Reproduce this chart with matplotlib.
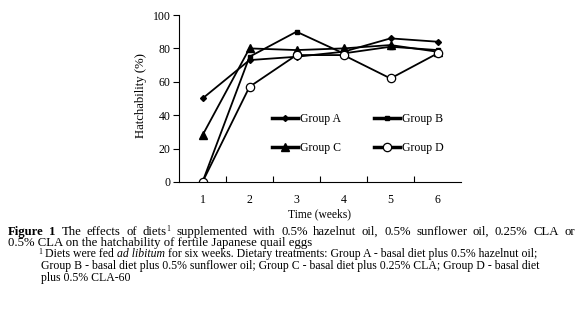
import numpy as np
import matplotlib
matplotlib.use('Agg')
import matplotlib.pyplot as plt

# data
weeks = [1, 2, 3, 4, 5, 6]
group_a = [50, 73, 75, 78, 86, 84]
group_b = [0, 75, 90, 77, 81, 79]
group_c = [28, 80, 79, 80, 82, 78]
group_d = [0, 57, 76, 76, 62, 77]
y_ticks = [0, 20, 40, 60, 80, 100]

plt.rcParams['font.family'] = ['Liberation Serif', 'DejaVu Serif']

fig = plt.figure(figsize=(5.8, 3.15), dpi=100)
ax = fig.add_axes([179/580, 1 - 182/315, (461 - 179)/580, (182 - 15)/315])

la, = ax.plot(weeks, group_a, '-', color='black', lw=1.3, marker='D', ms=3, label='Group A')
lb, = ax.plot(weeks, group_b, '-', color='black', lw=1.3, marker='s', ms=3.5, label='Group B')
lc, = ax.plot(weeks, group_c, '-', color='black', lw=1.3, marker='^', ms=6, label='Group C')
ld, = ax.plot(weeks, group_d, '-', color='black', lw=1.3, marker='o', ms=6,
              mfc='white', mec='black', mew=0.9, label='Group D')

ax.set_xlim(0.5, 6.5)
ax.set_ylim(0, 100)
ax.set_yticks(y_ticks)
ax.set_xticks(weeks)
ax.set_xticks(np.arange(1.5, 6.5, 1), minor=True)
ax.tick_params(axis='x', which='major', length=0, pad=9, labelsize=8.5)
ax.tick_params(axis='x', which='minor', length=4, direction='in', width=0.8)
ax.tick_params(axis='y', length=4, direction='out', width=0.8, labelsize=8.5, pad=2)
for s in ['top', 'right']:
    ax.spines[s].set_visible(False)
for s in ['left', 'bottom']:
    ax.spines[s].set_linewidth(0.8)

ax.set_ylabel('Hatchability (%)', fontsize=9.2)
ax.yaxis.set_label_coords(-0.113, 0.52)
ax.set_xlabel('Time (weeks)', fontsize=8.3, labelpad=1)

# row order A B / C D
leg = ax.legend([la, lc, lb, ld], ['Group A', 'Group C', 'Group B', 'Group D'],
                ncol=2, loc='center', bbox_to_anchor=(0.635, 0.29), frameon=False,
                fontsize=8.5, handlelength=2.2, handletextpad=0.15, columnspacing=2.8,
                labelspacing=1.5, borderaxespad=0)
for h in leg.get_lines():
    h.set_linewidth(2.5)

# caption, drawn as runs of differently styled text
renderer = fig.canvas.get_renderer()


def draw_runs(x, y, runs, size, right=None):
    # measure first, then spread spaces if the line is justified
    texts = []
    total = 0
    for txt, kw in runs:
        kw = dict(kw)
        dy = kw.pop('dy', 0)
        fs = kw.pop('fontsize', size)
        t = fig.text(0, 0, txt, fontsize=fs, va='baseline', **kw)
        w = t.get_window_extent(renderer=renderer).width
        texts.append((t, dy, w))
        total += w
    extra = 0
    if right is not None:
        nsp = sum(t.get_text().count(' ') for t, _, _ in texts)
        extra = (right - x - total) / nsp
    for t, dy, w in texts:
        words = t.get_text()
        if extra and ' ' in words:
            # split on spaces, place each piece
            fs = t.get_fontsize()
            props = dict(fontsize=fs, style=t.get_style(), weight=t.get_weight())
            t.remove()
            pieces = words.split(' ')
            for i, p in enumerate(pieces):
                if p:
                    tt = fig.text(x / 580, 1 - (y - dy) / 315, p, va='baseline', **props)
                    x += tt.get_window_extent(renderer=renderer).width
                if i < len(pieces) - 1:
                    sp = fig.text(0, 0, ' ', va='baseline', **props)
                    x += sp.get_window_extent(renderer=renderer).width + extra
                    sp.remove()
        else:
            t.set_position((x / 580, 1 - (y - dy) / 315))
            x += w


sup = {'fontsize': 5.5, 'dy': 4}
draw_runs(8, 235, [('Figure 1', {'weight': 'bold'}),
                   (' The effects of diets', {}),
                   ('1', sup),
                   (' supplemented with 0.5% hazelnut oil, 0.5% sunflower oil, 0.25% CLA or', {})],
          9.2, right=574)
draw_runs(8, 246, [('0.5% CLA on the hatchability of fertile Japanese quail eggs', {})], 9.2)
draw_runs(38, 257, [('1', {'fontsize': 5.5, 'dy': 3}),
                    (' Diets were fed ', {}),
                    ('ad libitum', {'style': 'italic'}),
                    (' for six weeks. Dietary treatments: Group A - basal diet plus 0.5% hazelnut oil;', {})], 8.5)
draw_runs(41, 269, [('Group B - basal diet plus 0.5% sunflower oil; Group C - basal diet plus 0.25% CLA; Group D - basal diet', {})], 8.5)
draw_runs(41, 281, [('plus 0.5% CLA-60', {})], 8.5)

fig.savefig('out.png', dpi=100)
